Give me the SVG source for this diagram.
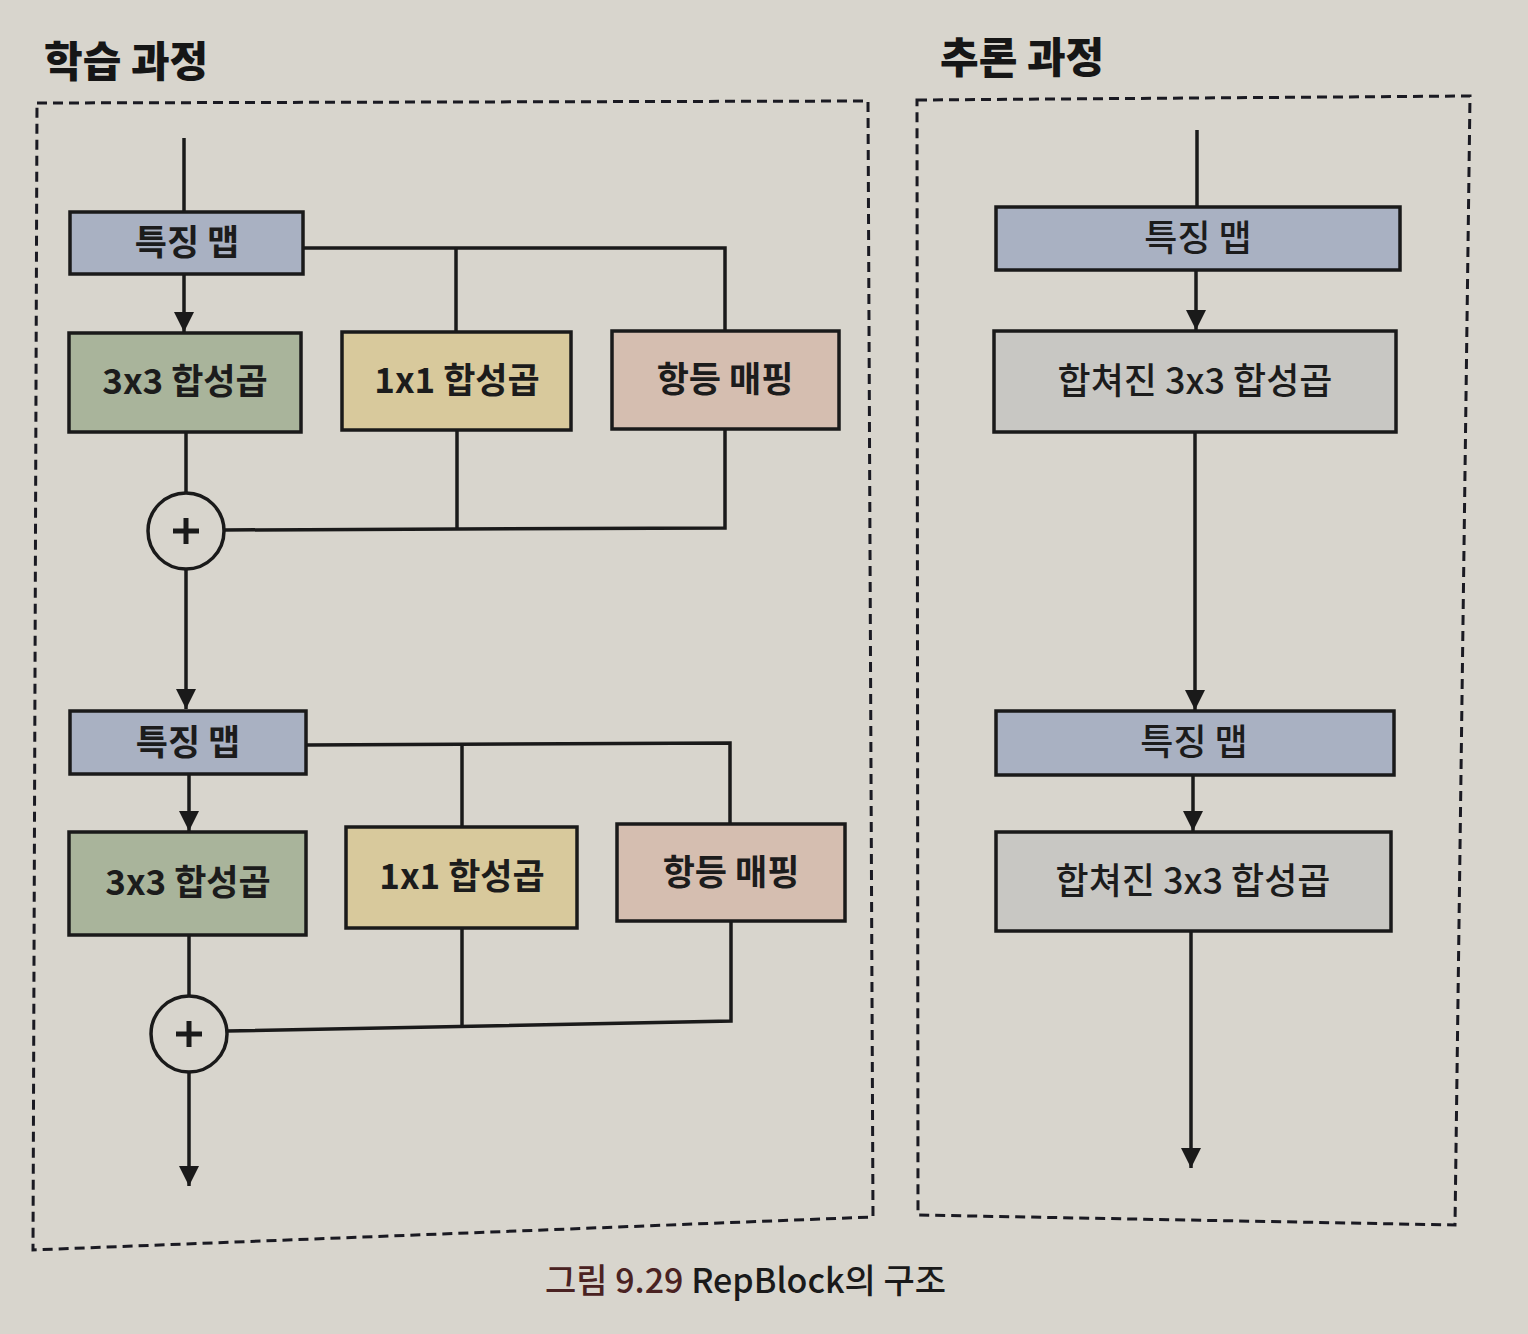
<svg xmlns="http://www.w3.org/2000/svg" width="1528" height="1334" viewBox="0 0 1528 1334">
<defs>
<marker id="ah" viewBox="0 0 10 10" refX="10" refY="5" markerWidth="20" markerHeight="20" markerUnits="userSpaceOnUse" orient="auto">
<path d="M0,0 L10,5 L0,10 Z" fill="#1a1a1a"/>
</marker>
<style>
.bg{fill:#d8d5cd}
.frame{fill:none;stroke:#1a1a22;stroke-width:3;stroke-dasharray:10,6}
.box{stroke:#1a1a1a;stroke-width:3.5}
.fm{fill:#a9b1c2}
.c3{fill:#a9b49b}
.c1{fill:#d8c99c}
.id{fill:#d5beb0}
.mg{fill:#c8c7c3}
.ln{fill:none;stroke:#1a1a1a;stroke-width:3.5}
.lab{font-family:"Noto Sans CJK KR","Noto Sans",sans-serif;font-weight:700;font-size:35px;fill:#1c1c1c;text-anchor:middle}
.labm{font-family:"Noto Sans CJK KR","Noto Sans",sans-serif;font-weight:500;font-size:36px;fill:#1c1c1c;text-anchor:middle}
.ttl{font-family:"Noto Sans CJK KR","Noto Sans",sans-serif;font-weight:900;font-size:42px;fill:#161616}
.cap{font-family:"Noto Sans CJK KR","Noto Sans",sans-serif;font-weight:500;font-size:34px;fill:#1a1a1a}
.plus{fill:none;stroke:#1a1a1a;stroke-width:5}
</style>
</defs>
<rect class="bg" x="0" y="0" width="1528" height="1334"/>

<g id="frames">
<path class="frame" d="M37,103 L868,101 L873,1217 L33,1250 Z"/>
<path class="frame" d="M917,100 L1470,96 L1455,1225 L918,1215 Z"/>
</g>

<g id="titles">
<text class="ttl" x="44" y="77">학습 과정</text>
<text class="ttl" x="940" y="73">추론 과정</text>
</g>

<g id="connectors">
<line class="ln" x1="184" y1="138" x2="184" y2="212"/>
<line class="ln" x1="184" y1="274" x2="184" y2="332" marker-end="url(#ah)"/>
<polyline class="ln" points="303,248 725,248 725,331"/>
<line class="ln" x1="456" y1="248" x2="456" y2="332"/>
<line class="ln" x1="186" y1="432" x2="186" y2="493"/>
<polyline class="ln" points="457,430 457,529"/>
<polyline class="ln" points="725,429 725,528 224,530"/>
<line class="ln" x1="186" y1="569" x2="186" y2="709" marker-end="url(#ah)"/>
<line class="ln" x1="189" y1="774" x2="189" y2="831" marker-end="url(#ah)"/>
<polyline class="ln" points="306,745 730,743 730,824"/>
<line class="ln" x1="462" y1="744" x2="462" y2="827"/>
<line class="ln" x1="189" y1="935" x2="189" y2="996"/>
<line class="ln" x1="462" y1="928" x2="462" y2="1025"/>
<polyline class="ln" points="731,921 731,1021 227,1031"/>
<line class="ln" x1="189" y1="1072" x2="189" y2="1186" marker-end="url(#ah)"/>
<line class="ln" x1="1197" y1="130" x2="1197" y2="207"/>
<line class="ln" x1="1196" y1="270" x2="1196" y2="330" marker-end="url(#ah)"/>
<line class="ln" x1="1195" y1="432" x2="1195" y2="710" marker-end="url(#ah)"/>
<line class="ln" x1="1193" y1="775" x2="1193" y2="831" marker-end="url(#ah)"/>
<line class="ln" x1="1191" y1="931" x2="1191" y2="1168" marker-end="url(#ah)"/>
</g>

<g id="fm1"><rect class="box fm" x="70" y="212" width="233" height="62"/><text class="lab" x="187" y="255">특징 맵</text></g>
<g id="conv3a"><rect class="box c3" x="69" y="333" width="232" height="99"/><text class="lab" x="185" y="394">3x3 합성곱</text></g>
<g id="conv1a"><rect class="box c1" x="342" y="332" width="229" height="98"/><text class="lab" x="457" y="393">1x1 합성곱</text></g>
<g id="ida"><rect class="box id" x="612" y="331" width="227" height="98"/><text class="lab" x="725" y="392">항등 매핑</text></g>
<g id="add1"><circle class="box" cx="186" cy="531" r="38" fill="none"/><path class="plus" d="M173,531 H199 M186,518 V544"/></g>

<g id="fm2"><rect class="box fm" x="70" y="711" width="236" height="63"/><text class="lab" x="188" y="755">특징 맵</text></g>
<g id="conv3b"><rect class="box c3" x="69" y="832" width="237" height="103"/><text class="lab" x="188" y="895">3x3 합성곱</text></g>
<g id="conv1b"><rect class="box c1" x="346" y="827" width="231" height="101"/><text class="lab" x="462" y="889">1x1 합성곱</text></g>
<g id="idb"><rect class="box id" x="617" y="824" width="228" height="97"/><text class="lab" x="731" y="885">항등 매핑</text></g>
<g id="add2"><circle class="box" cx="189" cy="1034" r="38" fill="none"/><path class="plus" d="M176,1034 H202 M189,1021 V1047"/></g>

<g id="fmr1"><rect class="box fm" x="996" y="207" width="404" height="63"/><text class="labm" x="1198" y="251">특징 맵</text></g>
<g id="mergeda"><rect class="box mg" x="994" y="331" width="402" height="101"/><text class="labm" x="1195" y="394">합쳐진 3x3 합성곱</text></g>
<g id="fmr2"><rect class="box fm" x="996" y="711" width="398" height="64"/><text class="labm" x="1194" y="755">특징 맵</text></g>
<g id="mergedb"><rect class="box mg" x="996" y="832" width="395" height="99"/><text class="labm" x="1193" y="894">합쳐진 3x3 합성곱</text></g>

<g id="caption">
<text class="cap" x="545" y="1293"><tspan fill="#4a2222">그림 9.29</tspan> RepBlock의 구조</text>
</g>
</svg>
